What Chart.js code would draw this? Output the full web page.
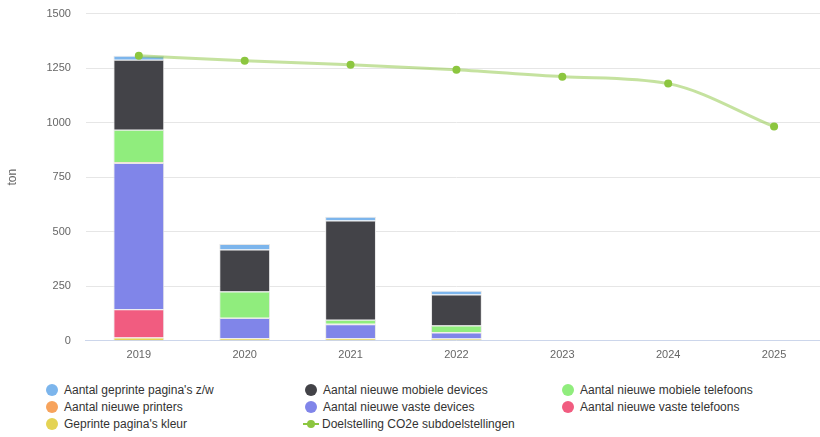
<!DOCTYPE html>
<html>
<head>
<meta charset="utf-8">
<script src="https://cdn.jsdelivr.net/npm/chart.js@4"></script>
<style>
  html, body { margin: 0; padding: 0; background: #fff; overflow: hidden; width: 820px; height: 437px; }
  #wrap { position: absolute; left: 0; top: -8px; width: 831px; height: 378px; }
  #legend { position: absolute; left: 0; top: 382px; width: 820px; font-family: "Liberation Sans", Arial, sans-serif; font-size: 12px; color: #333; }
  .item { position: absolute; height: 16px; line-height: 16px; white-space: nowrap; }
  .dot { display: inline-block; width: 12px; height: 12px; border-radius: 6px; vertical-align: -2px; margin-right: 6px; }
  .ln { display: inline-block; position: relative; width: 16px; height: 12px; vertical-align: -2px; margin-right: 3px; margin-left: -2px; }
  .ln i { position: absolute; left: 0; top: 5px; width: 16px; height: 2px; }
  .ln b { position: absolute; left: 4px; top: 2px; width: 8px; height: 8px; border-radius: 4px; }
</style>
</head>
<body>
<div id="wrap"><canvas id="co2Chart"></canvas></div>
<div id="legend"></div>
<script>
// Data
const years = ['2019', '2020', '2021', '2022', '2023', '2024', '2025'];
const kleur = [15, 12, 12, 10, 0, 0, 0];
const vasteTelefoons = [130, 0, 0, 0, 0, 0, 0];
const vasteDevices = [670, 92, 64, 28, 0, 0, 0];
const printers = [3, 2, 2, 2, 0, 0, 0];
const mobieleTelefoons = [150, 120, 18, 30, 0, 0, 0];
const mobieleDevices = [321, 193, 455, 142, 0, 0, 0];
const zw = [18, 25, 18, 18, 0, 0, 0];
const doelstelling = [1307, 1284, 1266, 1243, 1211, 1179, 982];
const yTicks = [0, 250, 500, 750, 1000, 1250, 1500];

function bar(label, data, color) {
  return {
    type: 'bar',
    label: label,
    data: data,
    backgroundColor: color,
    borderColor: 'rgba(230,230,230,0.95)',
    borderWidth: 1,
    stack: 's',
    order: 2
  };
}

const datasets = [
  bar("Geprinte pagina's kleur", kleur, '#e4d354'),
  bar('Aantal nieuwe vaste telefoons', vasteTelefoons, '#f15c80'),
  bar('Aantal nieuwe vaste devices', vasteDevices, '#8085e9'),
  bar('Aantal nieuwe printers', printers, '#f7a35c'),
  bar('Aantal nieuwe mobiele telefoons', mobieleTelefoons, '#90ed7d'),
  bar('Aantal nieuwe mobiele devices', mobieleDevices, '#434348'),
  bar("Aantal geprinte pagina's z/w", zw, '#7cb5ec'),
  {
    type: 'line',
    label: 'Doelstelling CO2e subdoelstellingen',
    data: doelstelling,
    borderColor: 'rgba(140,198,63,0.5)',
    backgroundColor: '#8cc63f',
    borderWidth: 3,
    cubicInterpolationMode: 'monotone',
    pointRadius: 4,
    pointBorderWidth: 0,
    pointBackgroundColor: '#8cc63f',
    fill: false,
    order: 1
  }
];

const ctx = document.getElementById('co2Chart').getContext('2d');
const chart = new Chart(ctx, {
  type: 'bar',
  data: { labels: years, datasets: datasets },
  options: {
    responsive: true,
    maintainAspectRatio: false,
    animation: false,
    layout: { padding: { top: 0, left: 5, right: 0, bottom: 0 } },
    datasets: { bar: { categoryPercentage: 0.8, barPercentage: 0.6 } },
    plugins: {
      legend: { display: false },
      tooltip: { enabled: false }
    },
    scales: {
      x: {
        stacked: true,
        grid: { display: false, drawTicks: false },
        border: { color: '#ccd6eb' },
        ticks: { color: '#666', font: { family: 'Liberation Sans', size: 11 }, padding: 8 }
      },
      y: {
        stacked: true,
        min: 0,
        max: 1500,
        afterBuildTicks: function(axis) { axis.ticks = yTicks.map(v => ({ value: v })); },
        grid: { color: '#e6e6e6', drawTicks: false },
        border: { display: false },
        ticks: {
          color: '#666',
          font: { family: 'Liberation Sans', size: 11 },
          padding: 15,
          callback: function(value) { return String(value); }
        },
        title: { display: true, text: 'ton', color: '#666', font: { family: 'Liberation Sans', size: 12 }, padding: { top: 0, bottom: 12 } }
      }
    }
  }
});

// Legend in three columns, alphabetical like the original
const legendOrder = [6, 5, 4, 3, 2, 1, 0, 7];
const colX = [46, 305, 562];
const rowY = [0, 17, 34];
const legendEl = document.getElementById('legend');
legendOrder.forEach(function(idx, i) {
  const ds = datasets[idx];
  const el = document.createElement('div');
  el.className = 'item';
  el.style.left = colX[i % 3] + 'px';
  el.style.top = rowY[Math.floor(i / 3)] + 'px';
  if (ds.type === 'line') {
    el.innerHTML = '<span class="ln"><i style="background:#8cc63f"></i><b style="background:#8cc63f"></b></span>';
  } else {
    el.innerHTML = '<span class="dot" style="background:' + ds.backgroundColor + '"></span>';
  }
  el.appendChild(document.createTextNode(ds.label));
  legendEl.appendChild(el);
});
</script>
</body>
</html>
